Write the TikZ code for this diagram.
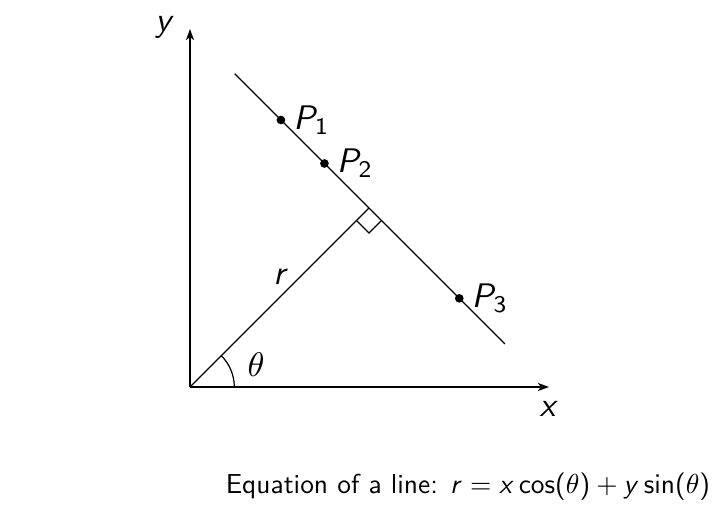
\documentclass[tikz,border=0pt]{standalone}
\usepackage{amsmath}
\usetikzlibrary{arrows.meta, calc, positioning}
% sans serif math letters, serif greek
\DeclareSymbolFont{sfletters}{OT1}{cmss}{m}{it}
\SetSymbolFont{operators}{normal}{OT1}{cmss}{m}{n}
\DeclareMathSymbol{x}{\mathalpha}{sfletters}{`x}
\DeclareMathSymbol{y}{\mathalpha}{sfletters}{`y}
\DeclareMathSymbol{r}{\mathalpha}{sfletters}{`r}
\DeclareMathSymbol{P}{\mathalpha}{sfletters}{`P}
\tikzset{
  dot/.style={circle, fill=black, inner sep=0pt, minimum size=2.8pt},
  axis/.style={-{Stealth[length=3.6pt, width=2.6pt, inset=1pt]}},
  ptlabel/.style={inner sep=2pt, scale=1.1},
}
\begin{document}
\begin{tikzpicture}[x=0.3226pt, y=0.3226pt]
    \useasboundingbox (-190,-142) rectangle (535,387);
    % Axes
    \coordinate (O) at (0,0);
    \coordinate (xend) at (359,0);
    \coordinate (yend) at (0,358);
    \draw[axis] (O) -- (xend);
    \draw[axis] (O) -- (yend);
    \node[scale=1.1] (ylab) at (-25,360) {$y$};
    \node[scale=1.1] (xlab) at (359,-22) {$x$};

    % Foot of the normal and the line
    \coordinate (F) at (45:253.1);
    \coordinate (Lstart) at ($(F)+(135:190)$);
    \coordinate (Lend) at ($(F)+(-45:192.3)$);
    \draw (Lstart) -- (Lend);
    \draw (O) -- (F);

    % Right angle mark
    \draw ($(F)+(225:17.7)$) -- ++(-45:17.7) -- ++(45:17.7);

    % Angle theta
    \draw (44.3,0) arc (0:45:44.3);
    \node[scale=1.1] (thetalab) at (66,22) {$\theta$};
    \node[scale=1.1] (rlab) at (91,110) {$r$};

    % Points on the line
    \node[dot] (P1) at ($(F)+(135:124.5)$) {};
    \node[dot] (P2) at ($(F)+(135:63)$) {};
    \node[dot] (P3) at ($(F)+(-45:127.7)$) {};
    \node[ptlabel, right=0pt of P1] (P1lab) {$P_1$};
    \node[ptlabel, right=0pt of P2] (P2lab) {$P_2$};
    \node[ptlabel, right=0pt of P3] (P3lab) {$P_3$};

    % Caption
    \node[scale=0.885] (caption) at (278,-100) {\sffamily Equation of a line: $r = x\cos(\theta) + y\sin(\theta)$};
\end{tikzpicture}
\end{document}
